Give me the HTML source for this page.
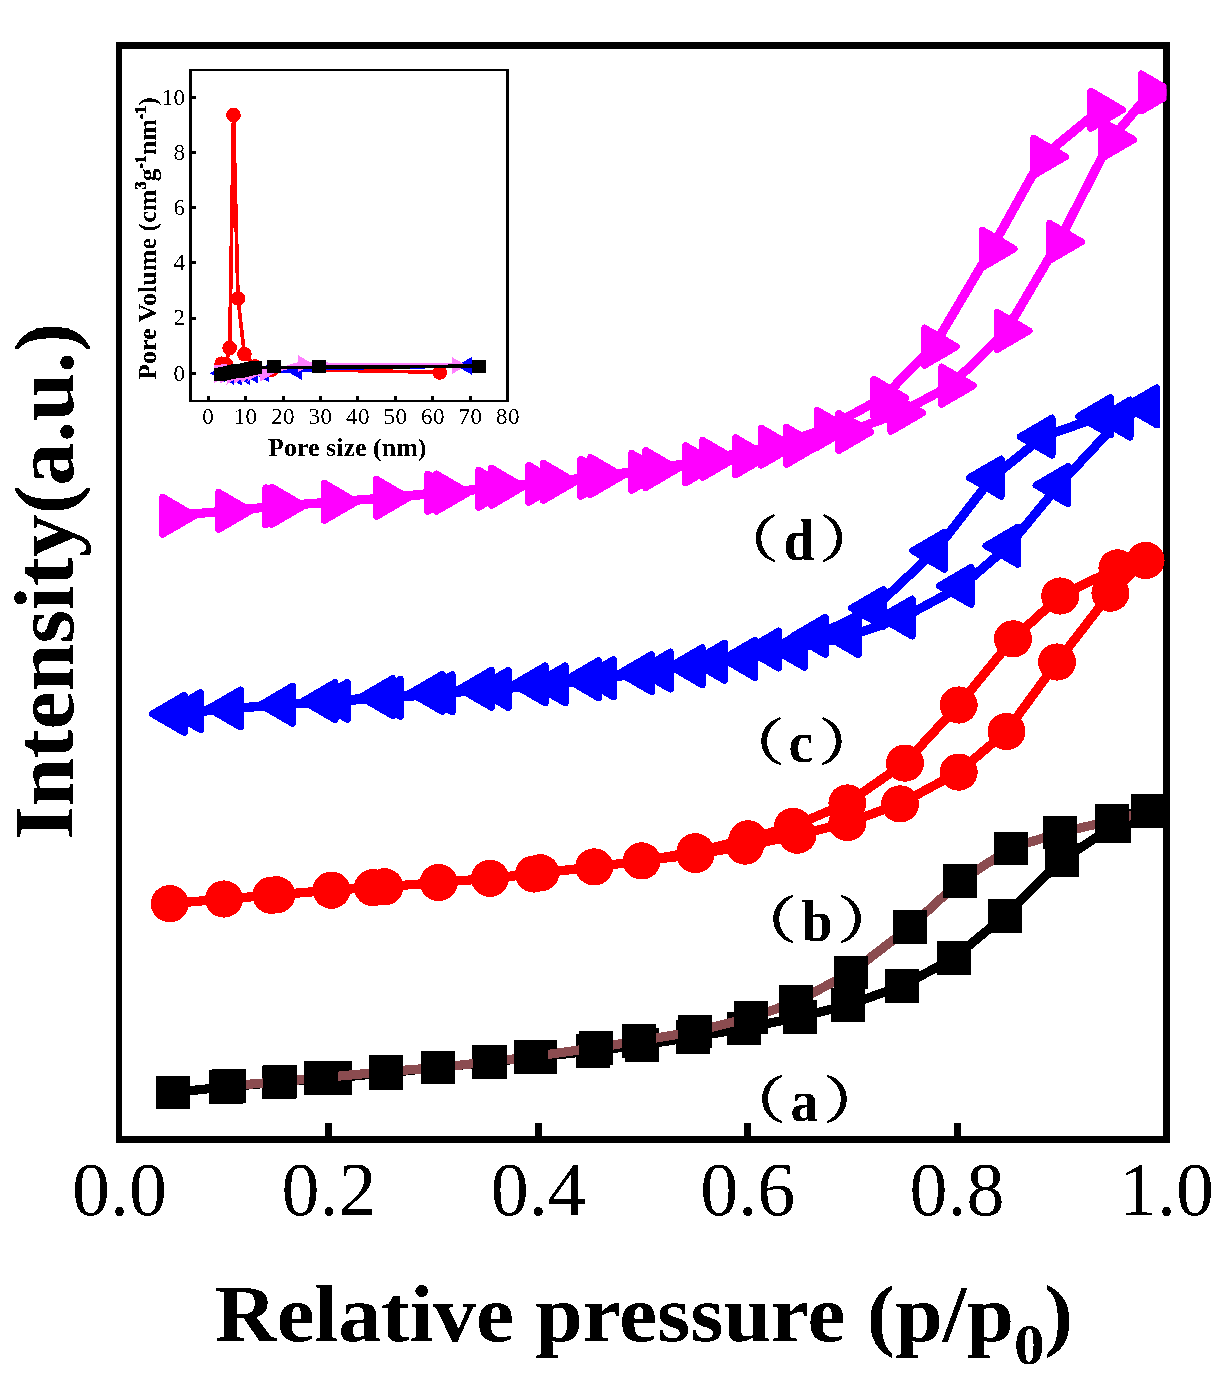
<!DOCTYPE html>
<html><head><meta charset="utf-8"><title>chart</title>
<style>html,body{margin:0;padding:0;background:#fff;}svg{display:block;}</style></head>
<body>
<svg width="1227" height="1392" viewBox="0 0 1227 1392">
<rect width="1227" height="1392" fill="#fff"/>
<defs><clipPath id="cp"><rect x="119" y="45.5" width="1047.5" height="1094"/></clipPath><filter id="bin" x="0" y="0" width="100%" height="100%" filterUnits="userSpaceOnUse" color-interpolation-filters="sRGB"><feComponentTransfer><feFuncA type="discrete" tableValues="0 1"/></feComponentTransfer></filter><clipPath id="ci"><rect x="190.5" y="70" width="317" height="331"/></clipPath></defs>
<g shape-rendering="crispEdges">
<rect x="116" y="42" width="6" height="1101" fill="#000"/>
<rect x="116" y="42" width="1054" height="7" fill="#000"/>
<rect x="1163" y="42" width="7" height="1101" fill="#000"/>
<rect x="116" y="1136" width="1054" height="7" fill="#000"/>
<rect x="325" y="1123" width="7" height="14" fill="#000"/>
<rect x="535" y="1123" width="7" height="14" fill="#000"/>
<rect x="744" y="1123" width="7" height="14" fill="#000"/>
<rect x="954" y="1123" width="7" height="14" fill="#000"/>
</g>
<g shape-rendering="crispEdges">
<rect x="189" y="69" width="3" height="333" fill="#000"/>
<rect x="189" y="69" width="320" height="2" fill="#000"/>
<rect x="506" y="69" width="3" height="333" fill="#000"/>
<rect x="189" y="400" width="320" height="2" fill="#000"/>
<rect x="207" y="396" width="3" height="4" fill="#000"/>
<rect x="244" y="396" width="3" height="4" fill="#000"/>
<rect x="282" y="396" width="3" height="4" fill="#000"/>
<rect x="319" y="396" width="3" height="4" fill="#000"/>
<rect x="356" y="396" width="3" height="4" fill="#000"/>
<rect x="394" y="396" width="3" height="4" fill="#000"/>
<rect x="431" y="396" width="3" height="4" fill="#000"/>
<rect x="469" y="396" width="3" height="4" fill="#000"/>
<rect x="192" y="372" width="4" height="3" fill="#000"/>
<rect x="192" y="317" width="4" height="3" fill="#000"/>
<rect x="192" y="261" width="4" height="3" fill="#000"/>
<rect x="192" y="206" width="4" height="3" fill="#000"/>
<rect x="192" y="151" width="4" height="3" fill="#000"/>
<rect x="192" y="96" width="4" height="3" fill="#000"/>
</g>
<g clip-path="url(#ci)" shape-rendering="crispEdges">
<polyline points="217.0,368.0 221.6,363.7 226.0,364.5 229.7,348.0 233.5,115.1 238.0,298.4 244.4,354.2 255.2,366.4 271.3,370.0 310.0,369.7 439.7,372.3" fill="none" stroke="#ff0000" stroke-width="3.7" stroke-linejoin="round" />
<ellipse cx="221.6" cy="363.7" rx="7.3" ry="7.3" fill="#ff0000"/>
<ellipse cx="226.0" cy="364.5" rx="7.3" ry="7.3" fill="#ff0000"/>
<ellipse cx="229.7" cy="348.0" rx="7.3" ry="7.3" fill="#ff0000"/>
<ellipse cx="233.5" cy="115.1" rx="7.3" ry="7.3" fill="#ff0000"/>
<ellipse cx="238.0" cy="298.4" rx="7.3" ry="7.3" fill="#ff0000"/>
<ellipse cx="244.4" cy="354.2" rx="7.3" ry="7.3" fill="#ff0000"/>
<ellipse cx="255.2" cy="366.4" rx="7.3" ry="7.3" fill="#ff0000"/>
<ellipse cx="271.3" cy="370.0" rx="7.3" ry="7.3" fill="#ff0000"/>
<ellipse cx="439.7" cy="372.5" rx="7.3" ry="7.3" fill="#ff0000"/>
<polyline points="216.0,373.6 224.0,376.5 232.0,377.5 240.0,377.0 248.0,375.5 258.0,373.5 270.0,371.5 297.0,371.0 330.0,368.2 472.0,365.9" fill="none" stroke="#0000ff" stroke-width="3.7" stroke-linejoin="round" />
<polygon points="225.3,364.2 225.3,382.2 209.6,373.2" fill="#0000ff"/>
<polygon points="234.0,366.8 234.0,384.8 218.3,375.8" fill="#0000ff"/>
<polygon points="242.0,367.6 242.0,385.6 226.3,376.6" fill="#0000ff"/>
<polygon points="250.0,367.0 250.0,385.0 234.3,376.0" fill="#0000ff"/>
<polygon points="258.0,365.5 258.0,383.5 242.3,374.5" fill="#0000ff"/>
<polygon points="268.5,363.8 268.5,381.8 252.8,372.8" fill="#0000ff"/>
<polygon points="302.0,362.0 302.0,380.0 286.3,371.0" fill="#0000ff"/>
<polygon points="472.0,356.9 472.0,374.9 456.3,365.9" fill="#0000ff"/>
<polyline points="214.0,366.6 226.0,366.2 232.0,377.0 240.0,376.5 248.0,375.0 261.0,373.5 272.0,372.0 287.0,367.5 299.0,363.7 330.0,364.4 453.0,364.6" fill="none" stroke="#ff80ff" stroke-width="3.7" stroke-linejoin="round" />
<polygon points="214.0,366.0 214.0,383.0 228.2,374.5" fill="#ff80ff"/>
<polygon points="219.5,367.0 219.5,384.0 233.7,375.5" fill="#ff80ff"/>
<polygon points="226.5,367.5 226.5,384.5 240.7,376.0" fill="#ff80ff"/>
<polygon points="233.5,367.0 233.5,384.0 247.7,375.5" fill="#ff80ff"/>
<polygon points="240.5,366.0 240.5,383.0 254.7,374.5" fill="#ff80ff"/>
<polygon points="247.5,364.5 247.5,381.5 261.7,373.0" fill="#ff80ff"/>
<polygon points="260.1,364.6 260.1,381.6 274.3,373.1" fill="#ff80ff"/>
<polygon points="298.2,355.2 298.2,372.2 312.4,363.7" fill="#ff80ff"/>
<polygon points="452.0,357.0 452.0,374.0 466.2,365.5" fill="#ff80ff"/>
<polyline points="220.4,374.4 255.4,367.5 273.5,367.4 318.9,367.4 479.0,366.1" fill="none" stroke="#000000" stroke-width="3.7" stroke-linejoin="round" />
<rect x="213.8" y="367.8" width="13.2" height="13.2" fill="#000"/>
<rect x="218.2" y="366.9" width="13.2" height="13.2" fill="#000"/>
<rect x="222.6" y="366.1" width="13.2" height="13.2" fill="#000"/>
<rect x="226.9" y="365.2" width="13.2" height="13.2" fill="#000"/>
<rect x="231.3" y="364.3" width="13.2" height="13.2" fill="#000"/>
<rect x="235.7" y="363.5" width="13.2" height="13.2" fill="#000"/>
<rect x="240.1" y="362.6" width="13.2" height="13.2" fill="#000"/>
<rect x="244.4" y="361.8" width="13.2" height="13.2" fill="#000"/>
<rect x="248.8" y="360.9" width="13.2" height="13.2" fill="#000"/>
<rect x="266.5" y="360.4" width="14.0" height="13.0" fill="#000"/>
<rect x="311.9" y="360.4" width="14.0" height="13.0" fill="#000"/>
<rect x="472.0" y="359.9" width="14.0" height="13.0" fill="#000"/>
</g>
<g clip-path="url(#cp)" shape-rendering="crispEdges">
<polyline points="171.6,515.8 227.6,510.9 280.9,505.8 333.4,501.9 385.5,497.9 436.6,492.8 487.6,488.8 537.7,483.9 589.8,477.8 640.6,471.9 694.7,464.3 744.6,456.4 795.5,445.9 847.8,432.0 899.9,412.9 950.6,385.7 1006.2,330.9 1058.6,241.9 1110.9,139.6 1150.3,92.5" fill="none" stroke="#ff00ff" stroke-width="9.2" stroke-linejoin="round" />
<polyline points="1099.8,109.8 1042.6,156.8 991.4,248.8 933.6,346.7 882.8,397.8 826.0,428.8 770.3,446.7 711.6,458.9 654.6,469.0 599.5,476.0 552.4,481.9 500.5,486.8 445.5,492.7 385.5,497.9 333.4,501.9 274.7,506.5" fill="none" stroke="#ff00ff" stroke-width="9.2" stroke-linejoin="round" />
<polygon points="162.6,497.2 162.6,534.3 194.4,515.8" fill="#ff00ff" stroke="#ff00ff" stroke-width="7" stroke-linejoin="round"/>
<polygon points="218.6,492.3 218.6,529.4 250.4,510.9" fill="#ff00ff" stroke="#ff00ff" stroke-width="7" stroke-linejoin="round"/>
<polygon points="271.9,487.2 271.9,524.4 303.7,505.8" fill="#ff00ff" stroke="#ff00ff" stroke-width="7" stroke-linejoin="round"/>
<polygon points="324.4,483.3 324.4,520.4 356.2,501.9" fill="#ff00ff" stroke="#ff00ff" stroke-width="7" stroke-linejoin="round"/>
<polygon points="376.5,479.3 376.5,516.4 408.3,497.9" fill="#ff00ff" stroke="#ff00ff" stroke-width="7" stroke-linejoin="round"/>
<polygon points="427.6,474.2 427.6,511.4 459.4,492.8" fill="#ff00ff" stroke="#ff00ff" stroke-width="7" stroke-linejoin="round"/>
<polygon points="478.6,470.2 478.6,507.4 510.4,488.8" fill="#ff00ff" stroke="#ff00ff" stroke-width="7" stroke-linejoin="round"/>
<polygon points="528.7,465.3 528.7,502.4 560.5,483.9" fill="#ff00ff" stroke="#ff00ff" stroke-width="7" stroke-linejoin="round"/>
<polygon points="580.8,459.2 580.8,496.4 612.6,477.8" fill="#ff00ff" stroke="#ff00ff" stroke-width="7" stroke-linejoin="round"/>
<polygon points="631.6,453.3 631.6,490.4 663.4,471.9" fill="#ff00ff" stroke="#ff00ff" stroke-width="7" stroke-linejoin="round"/>
<polygon points="685.7,445.8 685.7,482.9 717.5,464.3" fill="#ff00ff" stroke="#ff00ff" stroke-width="7" stroke-linejoin="round"/>
<polygon points="735.6,437.8 735.6,474.9 767.4,456.4" fill="#ff00ff" stroke="#ff00ff" stroke-width="7" stroke-linejoin="round"/>
<polygon points="786.5,427.3 786.5,464.4 818.3,445.9" fill="#ff00ff" stroke="#ff00ff" stroke-width="7" stroke-linejoin="round"/>
<polygon points="838.8,413.4 838.8,450.6 870.6,432.0" fill="#ff00ff" stroke="#ff00ff" stroke-width="7" stroke-linejoin="round"/>
<polygon points="890.9,394.3 890.9,431.4 922.7,412.9" fill="#ff00ff" stroke="#ff00ff" stroke-width="7" stroke-linejoin="round"/>
<polygon points="941.6,367.1 941.6,404.2 973.4,385.7" fill="#ff00ff" stroke="#ff00ff" stroke-width="7" stroke-linejoin="round"/>
<polygon points="997.2,312.3 997.2,349.4 1029.0,330.9" fill="#ff00ff" stroke="#ff00ff" stroke-width="7" stroke-linejoin="round"/>
<polygon points="1049.6,223.3 1049.6,260.4 1081.4,241.9" fill="#ff00ff" stroke="#ff00ff" stroke-width="7" stroke-linejoin="round"/>
<polygon points="1101.9,121.0 1101.9,158.2 1133.7,139.6" fill="#ff00ff" stroke="#ff00ff" stroke-width="7" stroke-linejoin="round"/>
<polygon points="1141.3,74.0 1141.3,111.0 1173.1,92.5" fill="#ff00ff" stroke="#ff00ff" stroke-width="7" stroke-linejoin="round"/>
<polygon points="1090.8,91.2 1090.8,128.3 1122.6,109.8" fill="#ff00ff" stroke="#ff00ff" stroke-width="7" stroke-linejoin="round"/>
<polygon points="1033.6,138.2 1033.6,175.4 1065.4,156.8" fill="#ff00ff" stroke="#ff00ff" stroke-width="7" stroke-linejoin="round"/>
<polygon points="982.4,230.2 982.4,267.4 1014.2,248.8" fill="#ff00ff" stroke="#ff00ff" stroke-width="7" stroke-linejoin="round"/>
<polygon points="924.6,328.1 924.6,365.2 956.4,346.7" fill="#ff00ff" stroke="#ff00ff" stroke-width="7" stroke-linejoin="round"/>
<polygon points="873.8,379.2 873.8,416.4 905.6,397.8" fill="#ff00ff" stroke="#ff00ff" stroke-width="7" stroke-linejoin="round"/>
<polygon points="817.0,410.2 817.0,447.4 848.8,428.8" fill="#ff00ff" stroke="#ff00ff" stroke-width="7" stroke-linejoin="round"/>
<polygon points="761.3,428.1 761.3,465.2 793.1,446.7" fill="#ff00ff" stroke="#ff00ff" stroke-width="7" stroke-linejoin="round"/>
<polygon points="702.6,440.3 702.6,477.4 734.4,458.9" fill="#ff00ff" stroke="#ff00ff" stroke-width="7" stroke-linejoin="round"/>
<polygon points="645.6,450.4 645.6,487.6 677.4,469.0" fill="#ff00ff" stroke="#ff00ff" stroke-width="7" stroke-linejoin="round"/>
<polygon points="590.5,457.4 590.5,494.6 622.3,476.0" fill="#ff00ff" stroke="#ff00ff" stroke-width="7" stroke-linejoin="round"/>
<polygon points="543.4,463.3 543.4,500.4 575.2,481.9" fill="#ff00ff" stroke="#ff00ff" stroke-width="7" stroke-linejoin="round"/>
<polygon points="491.5,468.2 491.5,505.4 523.3,486.8" fill="#ff00ff" stroke="#ff00ff" stroke-width="7" stroke-linejoin="round"/>
<polygon points="436.5,474.1 436.5,511.2 468.3,492.7" fill="#ff00ff" stroke="#ff00ff" stroke-width="7" stroke-linejoin="round"/>
<polygon points="376.5,479.3 376.5,516.4 408.3,497.9" fill="#ff00ff" stroke="#ff00ff" stroke-width="7" stroke-linejoin="round"/>
<polygon points="324.4,483.3 324.4,520.4 356.2,501.9" fill="#ff00ff" stroke="#ff00ff" stroke-width="7" stroke-linejoin="round"/>
<polygon points="265.7,487.9 265.7,525.0 297.5,506.5" fill="#ff00ff" stroke="#ff00ff" stroke-width="7" stroke-linejoin="round"/>
<polyline points="175.2,713.9 231.4,708.5 283.5,704.8 326.0,701.1 383.7,697.1 433.2,692.9 482.4,688.8 536.2,684.4 589.5,679.2 642.5,673.1 693.2,666.2 745.8,658.9 795.4,648.8 849.2,636.1 903.2,617.6 962.1,585.9 1008.8,545.8 1058.9,485.2 1121.0,418.7 1147.9,406.4" fill="none" stroke="#0000ff" stroke-width="9.2" stroke-linejoin="round" />
<polyline points="1147.9,406.4 1101.5,416.2 1043.0,436.7 992.2,477.6 935.5,550.7 874.4,608.0 816.2,635.9 769.7,649.6 715.5,661.8 661.4,670.6 604.4,678.2 556.2,684.4 499.2,689.0 443.2,693.2 391.5,697.9 338.3,700.9 191.5,711.1" fill="none" stroke="#0000ff" stroke-width="9.2" stroke-linejoin="round" />
<polygon points="184.2,695.4 184.2,732.4 152.4,713.9" fill="#0000ff" stroke="#0000ff" stroke-width="7" stroke-linejoin="round"/>
<polygon points="240.4,690.0 240.4,727.0 208.6,708.5" fill="#0000ff" stroke="#0000ff" stroke-width="7" stroke-linejoin="round"/>
<polygon points="292.5,686.2 292.5,723.3 260.7,704.8" fill="#0000ff" stroke="#0000ff" stroke-width="7" stroke-linejoin="round"/>
<polygon points="335.0,682.6 335.0,719.6 303.2,701.1" fill="#0000ff" stroke="#0000ff" stroke-width="7" stroke-linejoin="round"/>
<polygon points="392.7,678.6 392.7,715.6 360.9,697.1" fill="#0000ff" stroke="#0000ff" stroke-width="7" stroke-linejoin="round"/>
<polygon points="442.2,674.4 442.2,711.4 410.4,692.9" fill="#0000ff" stroke="#0000ff" stroke-width="7" stroke-linejoin="round"/>
<polygon points="491.4,670.2 491.4,707.3 459.6,688.8" fill="#0000ff" stroke="#0000ff" stroke-width="7" stroke-linejoin="round"/>
<polygon points="545.2,665.9 545.2,702.9 513.4,684.4" fill="#0000ff" stroke="#0000ff" stroke-width="7" stroke-linejoin="round"/>
<polygon points="598.5,660.7 598.5,697.8 566.7,679.2" fill="#0000ff" stroke="#0000ff" stroke-width="7" stroke-linejoin="round"/>
<polygon points="651.5,654.6 651.5,691.6 619.7,673.1" fill="#0000ff" stroke="#0000ff" stroke-width="7" stroke-linejoin="round"/>
<polygon points="702.2,647.7 702.2,684.8 670.4,666.2" fill="#0000ff" stroke="#0000ff" stroke-width="7" stroke-linejoin="round"/>
<polygon points="754.8,640.4 754.8,677.4 723.0,658.9" fill="#0000ff" stroke="#0000ff" stroke-width="7" stroke-linejoin="round"/>
<polygon points="804.4,630.2 804.4,667.3 772.6,648.8" fill="#0000ff" stroke="#0000ff" stroke-width="7" stroke-linejoin="round"/>
<polygon points="858.2,617.6 858.2,654.6 826.4,636.1" fill="#0000ff" stroke="#0000ff" stroke-width="7" stroke-linejoin="round"/>
<polygon points="912.2,599.1 912.2,636.1 880.4,617.6" fill="#0000ff" stroke="#0000ff" stroke-width="7" stroke-linejoin="round"/>
<polygon points="971.1,567.4 971.1,604.4 939.3,585.9" fill="#0000ff" stroke="#0000ff" stroke-width="7" stroke-linejoin="round"/>
<polygon points="1017.8,527.2 1017.8,564.3 986.0,545.8" fill="#0000ff" stroke="#0000ff" stroke-width="7" stroke-linejoin="round"/>
<polygon points="1067.9,466.6 1067.9,503.8 1036.1,485.2" fill="#0000ff" stroke="#0000ff" stroke-width="7" stroke-linejoin="round"/>
<polygon points="1130.0,400.1 1130.0,437.2 1098.2,418.7" fill="#0000ff" stroke="#0000ff" stroke-width="7" stroke-linejoin="round"/>
<polygon points="1156.9,387.8 1156.9,424.9 1125.1,406.4" fill="#0000ff" stroke="#0000ff" stroke-width="7" stroke-linejoin="round"/>
<polygon points="1156.9,387.8 1156.9,424.9 1125.1,406.4" fill="#0000ff" stroke="#0000ff" stroke-width="7" stroke-linejoin="round"/>
<polygon points="1110.5,397.6 1110.5,434.8 1078.7,416.2" fill="#0000ff" stroke="#0000ff" stroke-width="7" stroke-linejoin="round"/>
<polygon points="1052.0,418.1 1052.0,455.2 1020.2,436.7" fill="#0000ff" stroke="#0000ff" stroke-width="7" stroke-linejoin="round"/>
<polygon points="1001.2,459.1 1001.2,496.2 969.4,477.6" fill="#0000ff" stroke="#0000ff" stroke-width="7" stroke-linejoin="round"/>
<polygon points="944.5,532.2 944.5,569.2 912.7,550.7" fill="#0000ff" stroke="#0000ff" stroke-width="7" stroke-linejoin="round"/>
<polygon points="883.4,589.5 883.4,626.5 851.6,608.0" fill="#0000ff" stroke="#0000ff" stroke-width="7" stroke-linejoin="round"/>
<polygon points="825.2,617.4 825.2,654.4 793.4,635.9" fill="#0000ff" stroke="#0000ff" stroke-width="7" stroke-linejoin="round"/>
<polygon points="778.7,631.1 778.7,668.1 746.9,649.6" fill="#0000ff" stroke="#0000ff" stroke-width="7" stroke-linejoin="round"/>
<polygon points="724.5,643.2 724.5,680.3 692.7,661.8" fill="#0000ff" stroke="#0000ff" stroke-width="7" stroke-linejoin="round"/>
<polygon points="670.4,652.1 670.4,689.1 638.6,670.6" fill="#0000ff" stroke="#0000ff" stroke-width="7" stroke-linejoin="round"/>
<polygon points="613.4,659.7 613.4,696.8 581.6,678.2" fill="#0000ff" stroke="#0000ff" stroke-width="7" stroke-linejoin="round"/>
<polygon points="565.2,665.9 565.2,702.9 533.4,684.4" fill="#0000ff" stroke="#0000ff" stroke-width="7" stroke-linejoin="round"/>
<polygon points="508.2,670.5 508.2,707.5 476.4,689.0" fill="#0000ff" stroke="#0000ff" stroke-width="7" stroke-linejoin="round"/>
<polygon points="452.2,674.7 452.2,711.8 420.4,693.2" fill="#0000ff" stroke="#0000ff" stroke-width="7" stroke-linejoin="round"/>
<polygon points="400.5,679.4 400.5,716.4 368.7,697.9" fill="#0000ff" stroke="#0000ff" stroke-width="7" stroke-linejoin="round"/>
<polygon points="347.3,682.4 347.3,719.4 315.5,700.9" fill="#0000ff" stroke="#0000ff" stroke-width="7" stroke-linejoin="round"/>
<polygon points="200.5,692.6 200.5,729.6 168.7,711.1" fill="#0000ff" stroke="#0000ff" stroke-width="7" stroke-linejoin="round"/>
<polyline points="169.7,903.7 223.9,899.0 276.4,894.8 331.5,890.2 384.5,886.8 438.7,882.5 490.0,878.3 540.4,872.8 594.2,866.9 641.7,860.9 695.4,854.6 745.1,846.1 797.4,835.2 847.4,822.6 900.1,803.9 958.7,772.1 1006.5,731.4 1057.1,662.0 1110.4,593.2 1145.6,560.4" fill="none" stroke="#ff0000" stroke-width="9.2" stroke-linejoin="round" />
<polyline points="1145.6,560.4 1117.4,567.9 1060.2,596.0 1012.9,638.9 958.7,705.0 904.9,763.1 847.4,803.0 793.0,826.3 747.9,838.8 695.4,851.8 641.7,860.9 594.2,866.9 534.0,874.0 490.0,878.3 438.7,882.5 373.0,887.6 331.5,890.2 271.4,895.3 223.9,899.0" fill="none" stroke="#ff0000" stroke-width="9.2" stroke-linejoin="round" />
<ellipse cx="169.7" cy="903.7" rx="19.0" ry="18.6" fill="#ff0000"/>
<ellipse cx="223.9" cy="899.0" rx="19.0" ry="18.6" fill="#ff0000"/>
<ellipse cx="276.4" cy="894.8" rx="19.0" ry="18.6" fill="#ff0000"/>
<ellipse cx="331.5" cy="890.2" rx="19.0" ry="18.6" fill="#ff0000"/>
<ellipse cx="384.5" cy="886.8" rx="19.0" ry="18.6" fill="#ff0000"/>
<ellipse cx="438.7" cy="882.5" rx="19.0" ry="18.6" fill="#ff0000"/>
<ellipse cx="490.0" cy="878.3" rx="19.0" ry="18.6" fill="#ff0000"/>
<ellipse cx="540.4" cy="872.8" rx="19.0" ry="18.6" fill="#ff0000"/>
<ellipse cx="594.2" cy="866.9" rx="19.0" ry="18.6" fill="#ff0000"/>
<ellipse cx="641.7" cy="860.9" rx="19.0" ry="18.6" fill="#ff0000"/>
<ellipse cx="695.4" cy="854.6" rx="19.0" ry="18.6" fill="#ff0000"/>
<ellipse cx="745.1" cy="846.1" rx="19.0" ry="18.6" fill="#ff0000"/>
<ellipse cx="797.4" cy="835.2" rx="19.0" ry="18.6" fill="#ff0000"/>
<ellipse cx="847.4" cy="822.6" rx="19.0" ry="18.6" fill="#ff0000"/>
<ellipse cx="900.1" cy="803.9" rx="19.0" ry="18.6" fill="#ff0000"/>
<ellipse cx="958.7" cy="772.1" rx="19.0" ry="18.6" fill="#ff0000"/>
<ellipse cx="1006.5" cy="731.4" rx="19.0" ry="18.6" fill="#ff0000"/>
<ellipse cx="1057.1" cy="662.0" rx="19.0" ry="18.6" fill="#ff0000"/>
<ellipse cx="1110.4" cy="593.2" rx="19.0" ry="18.6" fill="#ff0000"/>
<ellipse cx="1145.6" cy="560.4" rx="19.0" ry="18.6" fill="#ff0000"/>
<ellipse cx="1145.6" cy="560.4" rx="19.0" ry="18.6" fill="#ff0000"/>
<ellipse cx="1117.4" cy="567.9" rx="19.0" ry="18.6" fill="#ff0000"/>
<ellipse cx="1060.2" cy="596.0" rx="19.0" ry="18.6" fill="#ff0000"/>
<ellipse cx="1012.9" cy="638.9" rx="19.0" ry="18.6" fill="#ff0000"/>
<ellipse cx="958.7" cy="705.0" rx="19.0" ry="18.6" fill="#ff0000"/>
<ellipse cx="904.9" cy="763.1" rx="19.0" ry="18.6" fill="#ff0000"/>
<ellipse cx="847.4" cy="803.0" rx="19.0" ry="18.6" fill="#ff0000"/>
<ellipse cx="793.0" cy="826.3" rx="19.0" ry="18.6" fill="#ff0000"/>
<ellipse cx="747.9" cy="838.8" rx="19.0" ry="18.6" fill="#ff0000"/>
<ellipse cx="695.4" cy="851.8" rx="19.0" ry="18.6" fill="#ff0000"/>
<ellipse cx="641.7" cy="860.9" rx="19.0" ry="18.6" fill="#ff0000"/>
<ellipse cx="594.2" cy="866.9" rx="19.0" ry="18.6" fill="#ff0000"/>
<ellipse cx="534.0" cy="874.0" rx="19.0" ry="18.6" fill="#ff0000"/>
<ellipse cx="490.0" cy="878.3" rx="19.0" ry="18.6" fill="#ff0000"/>
<ellipse cx="438.7" cy="882.5" rx="19.0" ry="18.6" fill="#ff0000"/>
<ellipse cx="373.0" cy="887.6" rx="19.0" ry="18.6" fill="#ff0000"/>
<ellipse cx="331.5" cy="890.2" rx="19.0" ry="18.6" fill="#ff0000"/>
<ellipse cx="271.4" cy="895.3" rx="19.0" ry="18.6" fill="#ff0000"/>
<ellipse cx="223.9" cy="899.0" rx="19.0" ry="18.6" fill="#ff0000"/>
<polyline points="173.0,1092.5 226.0,1086.9 279.0,1082.2 334.9,1077.8 385.8,1072.9 437.9,1067.6 488.7,1062.1 539.9,1056.8 593.0,1050.9 641.9,1045.0 693.0,1037.1 744.1,1028.3 800.0,1016.9 848.1,1004.9 902.1,986.0 953.9,958.0 1005.0,915.7 1062.0,859.8 1114.0,826.0 1148.1,811.0" fill="none" stroke="#000000" stroke-width="9.2" stroke-linejoin="round" />
<rect x="156.0" y="1075.8" width="34.0" height="33.5" fill="#000"/>
<rect x="209.0" y="1070.2" width="34.0" height="33.5" fill="#000"/>
<rect x="262.0" y="1065.5" width="34.0" height="33.5" fill="#000"/>
<rect x="317.9" y="1061.0" width="34.0" height="33.5" fill="#000"/>
<rect x="368.8" y="1056.2" width="34.0" height="33.5" fill="#000"/>
<rect x="420.9" y="1050.8" width="34.0" height="33.5" fill="#000"/>
<rect x="471.7" y="1045.3" width="34.0" height="33.5" fill="#000"/>
<rect x="522.9" y="1040.0" width="34.0" height="33.5" fill="#000"/>
<rect x="576.0" y="1034.2" width="34.0" height="33.5" fill="#000"/>
<rect x="624.9" y="1028.2" width="34.0" height="33.5" fill="#000"/>
<rect x="676.0" y="1020.3" width="34.0" height="33.5" fill="#000"/>
<rect x="727.1" y="1011.5" width="34.0" height="33.5" fill="#000"/>
<rect x="783.0" y="1000.1" width="34.0" height="33.5" fill="#000"/>
<rect x="831.1" y="988.1" width="34.0" height="33.5" fill="#000"/>
<rect x="885.1" y="969.2" width="34.0" height="33.5" fill="#000"/>
<rect x="936.9" y="941.2" width="34.0" height="33.5" fill="#000"/>
<rect x="988.0" y="899.0" width="34.0" height="33.5" fill="#000"/>
<rect x="1045.0" y="843.0" width="34.0" height="33.5" fill="#000"/>
<rect x="1097.0" y="809.2" width="34.0" height="33.5" fill="#000"/>
<rect x="1131.1" y="794.2" width="34.0" height="33.5" fill="#000"/>
<polyline points="229.0,1085.9 280.2,1081.6 321.4,1077.8 385.8,1071.6 437.9,1067.6 489.5,1061.8 531.0,1056.8 595.9,1047.7 638.9,1040.8 695.0,1031.6 751.0,1017.6 796.1,1001.9 851.1,972.5 910.1,927.0 960.0,881.0 1010.9,848.3 1060.2,832.4 1112.0,820.7 1148.1,811.0" fill="none" stroke="#8b4c50" stroke-width="9.2" stroke-linejoin="round" />
<rect x="212.0" y="1069.2" width="34.0" height="33.5" fill="#000"/>
<rect x="263.2" y="1064.8" width="34.0" height="33.5" fill="#000"/>
<rect x="304.4" y="1061.0" width="34.0" height="33.5" fill="#000"/>
<rect x="368.8" y="1054.8" width="34.0" height="33.5" fill="#000"/>
<rect x="420.9" y="1050.8" width="34.0" height="33.5" fill="#000"/>
<rect x="472.5" y="1045.0" width="34.0" height="33.5" fill="#000"/>
<rect x="514.0" y="1040.0" width="34.0" height="33.5" fill="#000"/>
<rect x="578.9" y="1031.0" width="34.0" height="33.5" fill="#000"/>
<rect x="621.9" y="1024.0" width="34.0" height="33.5" fill="#000"/>
<rect x="678.0" y="1014.8" width="34.0" height="33.5" fill="#000"/>
<rect x="734.0" y="1000.9" width="34.0" height="33.5" fill="#000"/>
<rect x="779.1" y="985.1" width="34.0" height="33.5" fill="#000"/>
<rect x="834.1" y="955.8" width="34.0" height="33.5" fill="#000"/>
<rect x="893.1" y="910.2" width="34.0" height="33.5" fill="#000"/>
<rect x="943.0" y="864.2" width="34.0" height="33.5" fill="#000"/>
<rect x="993.9" y="831.5" width="34.0" height="33.5" fill="#000"/>
<rect x="1043.2" y="815.6" width="34.0" height="33.5" fill="#000"/>
<rect x="1095.0" y="804.0" width="34.0" height="33.5" fill="#000"/>
<rect x="1131.1" y="794.2" width="34.0" height="33.5" fill="#000"/>
</g>
<g font-family="'Liberation Serif', serif" fill="#000" filter="url(#bin)">
<text x="119.5" y="1215" font-size="76" text-anchor="middle">0.0</text>
<text x="328.9" y="1215" font-size="76" text-anchor="middle">0.2</text>
<text x="538.3" y="1215" font-size="76" text-anchor="middle">0.4</text>
<text x="747.7" y="1215" font-size="76" text-anchor="middle">0.6</text>
<text x="957.1" y="1215" font-size="76" text-anchor="middle">0.8</text>
<text x="1166.5" y="1215" font-size="76" text-anchor="middle">1.0</text>
<text x="215" y="1340.5" font-size="81" font-weight="bold" textLength="858" lengthAdjust="spacingAndGlyphs">Relative pressure (p/p<tspan font-size="58" dy="23">0</tspan><tspan dy="-23">)</tspan></text>
<text transform="translate(73,839.5) rotate(-90)" font-size="84" font-weight="bold" textLength="516.5" lengthAdjust="spacingAndGlyphs">Intensity(a.u.)</text>
<text x="208.1" y="424" font-size="23" text-anchor="middle" letter-spacing="0.4">0</text>
<text x="245.6" y="424" font-size="23" text-anchor="middle" letter-spacing="0.4">10</text>
<text x="283.0" y="424" font-size="23" text-anchor="middle" letter-spacing="0.4">20</text>
<text x="320.5" y="424" font-size="23" text-anchor="middle" letter-spacing="0.4">30</text>
<text x="358.0" y="424" font-size="23" text-anchor="middle" letter-spacing="0.4">40</text>
<text x="395.4" y="424" font-size="23" text-anchor="middle" letter-spacing="0.4">50</text>
<text x="432.9" y="424" font-size="23" text-anchor="middle" letter-spacing="0.4">60</text>
<text x="470.4" y="424" font-size="23" text-anchor="middle" letter-spacing="0.4">70</text>
<text x="507.9" y="424" font-size="23" text-anchor="middle" letter-spacing="0.4">80</text>
<text x="185.3" y="380.5" font-size="23" text-anchor="end" letter-spacing="0.4">0</text>
<text x="185.3" y="325.4" font-size="23" text-anchor="end" letter-spacing="0.4">2</text>
<text x="185.3" y="270.2" font-size="23" text-anchor="end" letter-spacing="0.4">4</text>
<text x="185.3" y="215.1" font-size="23" text-anchor="end" letter-spacing="0.4">6</text>
<text x="185.3" y="159.9" font-size="23" text-anchor="end" letter-spacing="0.4">8</text>
<text x="185.3" y="104.8" font-size="23" text-anchor="end" letter-spacing="0.4">10</text>
<text x="268" y="456" font-size="26" font-weight="bold" textLength="158.5" lengthAdjust="spacingAndGlyphs">Pore size (nm)</text>
<text transform="translate(156,380) rotate(-90)" font-size="26" font-weight="bold" textLength="283" lengthAdjust="spacingAndGlyphs">Pore Volume (cm<tspan font-size="16" dy="-10.5" stroke="#000" stroke-width="0.6">3</tspan><tspan dy="10.5">g</tspan><tspan font-size="16" dy="-10.5" stroke="#000" stroke-width="0.6">-1</tspan><tspan dy="10.5">nm</tspan><tspan font-size="16" dy="-10.5" stroke="#000" stroke-width="0.6">-1</tspan><tspan dy="10.5">)</tspan></text>
<path d="M774.2,515.4 A23.4,23.4 0 0 0 774.2,560.8 A25.6,25.6 0 0 1 774.2,515.4 Z" stroke="#000" stroke-width="1.8" stroke-linejoin="round"/>
<text x="0" y="0" font-size="58.5" font-weight="bold" transform="translate(783.5,559.5) scale(0.95,1)">d</text>
<path d="M823.8,515.4 A23.4,23.4 0 0 1 823.8,560.8 A25.6,25.6 0 0 0 823.8,515.4 Z" stroke="#000" stroke-width="1.8" stroke-linejoin="round"/>
<path d="M780.1,718.4 A23.4,23.4 0 0 0 780.1,763.9 A25.6,25.6 0 0 1 780.1,718.4 Z" stroke="#000" stroke-width="1.8" stroke-linejoin="round"/>
<text x="0" y="0" font-size="58.5" font-weight="bold" transform="translate(788.4,762.3) scale(0.95,1)">c</text>
<path d="M822.8,718.4 A23.4,23.4 0 0 1 822.8,763.9 A25.6,25.6 0 0 0 822.8,718.4 Z" stroke="#000" stroke-width="1.8" stroke-linejoin="round"/>
<path d="M792.3,896.2 A23.4,23.4 0 0 0 792.3,941.8 A25.6,25.6 0 0 1 792.3,896.2 Z" stroke="#000" stroke-width="1.8" stroke-linejoin="round"/>
<text x="0" y="0" font-size="58.5" font-weight="bold" transform="translate(801.7,940.5) scale(0.95,1)">b</text>
<path d="M841.9,896.2 A23.4,23.4 0 0 1 841.9,941.8 A25.6,25.6 0 0 0 841.9,896.2 Z" stroke="#000" stroke-width="1.8" stroke-linejoin="round"/>
<path d="M781.1,1076.2 A23.4,23.4 0 0 0 781.1,1121.8 A25.6,25.6 0 0 1 781.1,1076.2 Z" stroke="#000" stroke-width="1.8" stroke-linejoin="round"/>
<text x="0" y="0" font-size="58.5" font-weight="bold" transform="translate(790.4,1120.5) scale(0.95,1)">a</text>
<path d="M827.7,1076.2 A23.4,23.4 0 0 1 827.7,1121.8 A25.6,25.6 0 0 0 827.7,1076.2 Z" stroke="#000" stroke-width="1.8" stroke-linejoin="round"/>
</g>
</svg>
</body></html>
